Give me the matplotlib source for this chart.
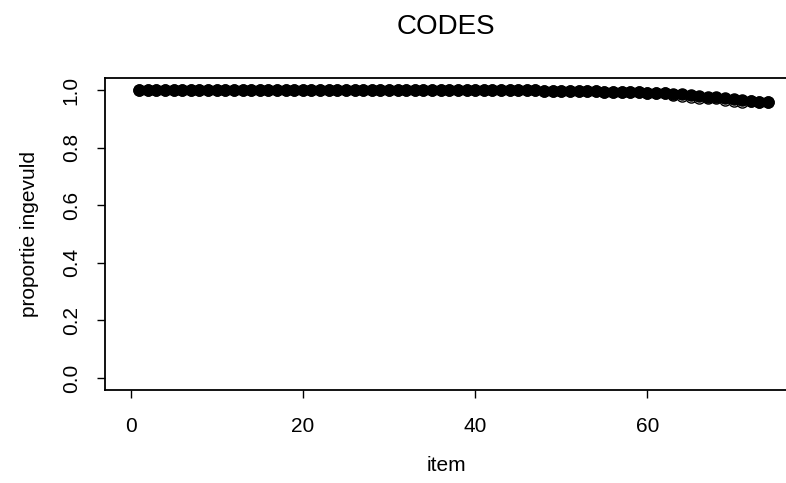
import numpy as np
import matplotlib.pyplot as plt

plt.rcParams['font.family'] = ['Liberation Sans', 'DejaVu Sans']

# proportion of respondents that filled in each item
items = np.arange(1, 75)

filled_b = [1.000] * 44 + [
    0.999, 0.999, 0.999, 0.998, 0.998, 0.998, 0.997, 0.997, 0.996, 0.996,
    0.995, 0.995, 0.994, 0.993, 0.992, 0.991, 0.990, 0.989, 0.987, 0.985,
    0.983, 0.980, 0.977, 0.975, 0.972, 0.969, 0.966, 0.963, 0.960, 0.957,
]

filled_a = [1.000] * 44 + [
    0.999, 0.999, 0.999, 0.998, 0.998, 0.998, 0.997, 0.997, 0.996, 0.996,
    0.995, 0.995, 0.994, 0.993, 0.992, 0.991, 0.990, 0.989, 0.982, 0.978,
    0.976, 0.973, 0.971, 0.972, 0.965, 0.962, 0.959, 0.961, 0.959, 0.957,
]

W, H = 786, 483
fig = plt.figure(figsize=(W / 100, H / 100), dpi=100)
left, right, top, bottom = 105, 787, 78, 390
ax = fig.add_axes([left / W, 1 - bottom / H, (right - left) / W, (bottom - top) / H])

ax.plot(items, filled_a, 'o', ms=8, mfc='white', mec='black', mew=1.0, clip_on=False)
ax.plot(items, filled_b, 'o', ms=8, mfc='black', mec='black', mew=1.0, clip_on=False)

ax.set_xlim(-2.97, 76.2)
ax.set_ylim(-0.042, 1.042)
ax.set_xticks([0, 20, 40, 60])
ax.set_yticks([0.0, 0.2, 0.4, 0.6, 0.8, 1.0])
ax.set_yticklabels(['0.0', '0.2', '0.4', '0.6', '0.8', '1.0'], rotation=90, va='center')

for s in ax.spines.values():
    s.set_linewidth(1.3)
ax.spines['right'].set_visible(False)
ax.tick_params(direction='out', length=5.5, width=1.0, labelsize=15)
ax.tick_params(axis='x', pad=14)
ax.tick_params(axis='y', pad=12)

ax.set_xlabel('item', fontsize=15, labelpad=14)
ax.set_ylabel('proportie ingevuld', fontsize=15, labelpad=16)
ax.set_title('CODES', fontsize=20, pad=32)

fig.savefig('out.png', dpi=100)
